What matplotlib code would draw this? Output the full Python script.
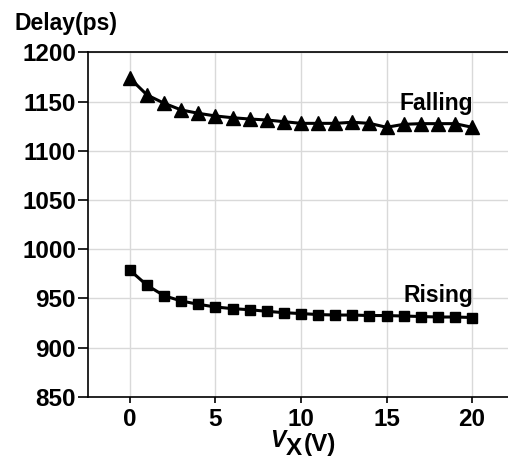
import matplotlib
matplotlib.use("Agg")
import matplotlib.pyplot as plt

vx = list(range(21))

falling = [1173.6, 1156.6, 1148.2, 1141.4, 1138.0, 1135.3, 1133.5, 1132.2, 1131.2, 1129.5,
           1127.8, 1127.8, 1127.8, 1128.9, 1127.8, 1123.8, 1126.8, 1127.5, 1127.5, 1127.5, 1123.8]
rising = [978.5, 963.2, 952.6, 947.3, 943.9, 941.2, 939.5, 938.4, 936.8, 935.4,
          934.5, 933.5, 933.0, 933.0, 932.5, 932.5, 932.0, 931.5, 931.0, 931.0, 930.5]

y_ticks = [850, 900, 950, 1000, 1050, 1100, 1150, 1200]
x_ticks = [0, 5, 10, 15, 20]

plt.rcParams['font.family'] = ['Liberation Sans', 'DejaVu Sans']
plt.rcParams['font.weight'] = 'bold'

fig = plt.figure(figsize=(5.08, 4.62), dpi=100)
ax = fig.add_axes([0.173, 0.1413, 0.827, 0.7455])

ax.plot(vx, falling, color='black', lw=2.2, marker='^', ms=10, zorder=3)
ax.plot(vx, rising, color='black', lw=2.2, marker='s', ms=7.8, zorder=3)

ax.text(20.05, 1147.5, 'Falling', ha='right', va='center', fontsize=16.5, fontweight='bold')
ax.text(20.05, 953, 'Rising', ha='right', va='center', fontsize=16.5, fontweight='bold')

ax.set_xlim(-2.46, 22.1)
ax.set_ylim(850, 1200)
ax.set_xticks(x_ticks)
ax.set_yticks(y_ticks)
ax.tick_params(axis='y', direction='out', length=7, width=1.2, labelsize=17.5, pad=1.5)
ax.tick_params(axis='x', direction='out', length=4, width=1.2, labelsize=17.5, pad=4)
for lab in ax.get_xticklabels() + ax.get_yticklabels():
    lab.set_fontweight('bold')

ax.grid(True, color='#d9d9d9', lw=1.0, zorder=0)
ax.set_axisbelow(True)
ax.spines['right'].set_visible(False)
for s in ['left', 'bottom', 'top']:
    ax.spines[s].set_linewidth(1.2)

fig.text(14 / 508, 1 - 30 / 462, 'Delay(ps)', ha='left', va='baseline', fontsize=16.5, fontweight='bold')

# x label: italic V with X subscript, then (V)
fig.text(270 / 508, 1 - 447 / 462, 'V', ha='left', va='baseline', fontsize=16.5, fontweight='bold', style='italic')
fig.text(286 / 508, 1 - 455 / 462, 'X', ha='left', va='baseline', fontsize=17.5, fontweight='bold')
fig.text(304 / 508, 1 - 451 / 462, '(V)', ha='left', va='baseline', fontsize=17.5, fontweight='bold')

fig.savefig('out.png', dpi=100)
